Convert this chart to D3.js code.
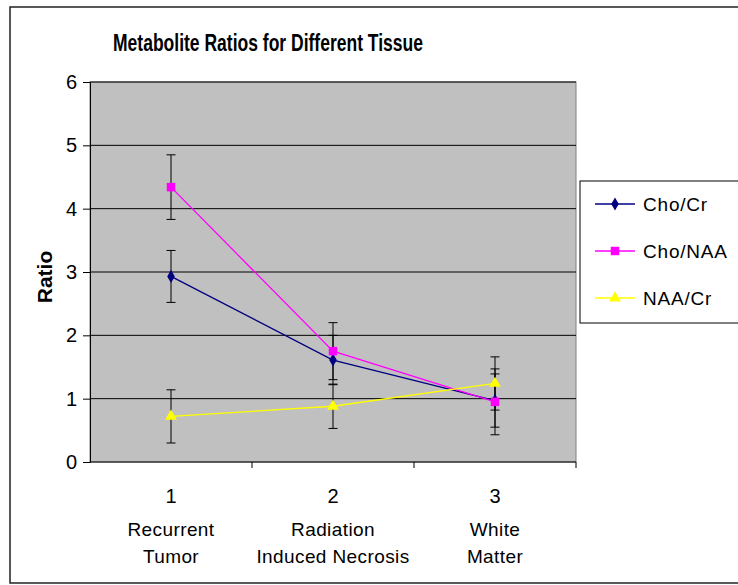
<!DOCTYPE html>
<html>
<head>
<meta charset="utf-8">
<script src="https://cdn.jsdelivr.net/npm/d3@7"></script>
<style>
  body { margin: 0; background: #fff; }
  text { font-family: 'Liberation Sans', Arial, sans-serif; fill: #000; }
</style>
</head>
<body>
<div class="chart"></div>
<script>
// DATA ------------------------------------
const categories = ['1', '2', '3']
const catLabels = [['Recurrent', 'Tumor'], ['Radiation', 'Induced Necrosis'], ['White', 'Matter']]
const yTicks = [0, 1, 2, 3, 4, 5, 6]

const seriesNames = ['Cho/Cr', 'Cho/NAA', 'NAA/Cr']
const choCr = [2.93, 1.61, 0.97]
const choCrErr = [0.41, 0.39, 0.42]
const choNaa = [4.34, 1.75, 0.95]
const choNaaErr = [0.51, 0.45, 0.52]
const naaCr = [0.72, 0.88, 1.24]
const naaCrErr = [0.42, 0.35, 0.42]

const series = [
    { name: seriesNames[0], values: choCr, err: choCrErr, color: '#000080', symbol: d3.symbolDiamond, size: 50 },
    { name: seriesNames[1], values: choNaa, err: choNaaErr, color: '#ff00ff', symbol: d3.symbolSquare, size: 72 },
    { name: seriesNames[2], values: naaCr, err: naaCrErr, color: '#ffff00', symbol: d3.symbolTriangle, size: 60 }
]

// CHART INIT ------------------------------
const W = 738, H = 585
const plot = { left: 90, top: 82, right: 576, bottom: 462 }

const svg = d3.select('.chart')
    .append('svg')
    .attr('width', W)
    .attr('height', H)

// outer chart border
svg.append('rect')
    .attr('x', 10).attr('y', 7)
    .attr('width', 760).attr('height', 576)
    .attr('fill', 'none')
    .attr('stroke', '#222')
    .attr('stroke-width', 1.5)

const xScale = d3.scaleBand()
    .domain(categories)
    .range([plot.left, plot.right])

const yScale = d3.scaleLinear()
    .domain([0, 6])
    .range([plot.bottom, plot.top])

// plot background
svg.append('rect')
    .attr('x', plot.left).attr('y', plot.top)
    .attr('width', plot.right - plot.left)
    .attr('height', plot.bottom - plot.top)
    .attr('fill', '#c0c0c0')
    .attr('stroke', '#808080')

// gridlines
svg.append('g')
    .selectAll('line')
    .data(yTicks.filter(d => d > 0))
    .enter()
    .append('line')
    .attr('x1', plot.left).attr('x2', plot.right)
    .attr('y1', d => yScale(d)).attr('y2', d => yScale(d))
    .attr('stroke', '#000')

// y axis
const yAxis = d3.axisLeft(yScale).tickValues(yTicks).tickFormat(d3.format('d')).tickSize(7).tickPadding(6)
const yG = svg.append('g')
    .attr('transform', `translate(${plot.left},0)`)
    .call(yAxis)
yG.select('.domain').attr('stroke', '#000')
yG.selectAll('text').style('font-size', '20px').attr('fill', '#000')

// x axis
svg.append('line')
    .attr('x1', plot.left).attr('x2', plot.right)
    .attr('y1', plot.bottom).attr('y2', plot.bottom)
    .attr('stroke', '#000')

svg.append('g')
    .selectAll('line')
    .data(categories)
    .enter()
    .append('line')
    .attr('x1', d => xScale(d) + xScale.bandwidth())
    .attr('x2', d => xScale(d) + xScale.bandwidth())
    .attr('y1', plot.bottom).attr('y2', plot.bottom + 6)
    .attr('stroke', '#000')

const xLab = svg.append('g')
    .selectAll('g')
    .data(categories)
    .enter()
    .append('g')
    .attr('transform', d => `translate(${xScale(d) + xScale.bandwidth() / 2},0)`)

xLab.append('text')
    .attr('y', 503)
    .attr('text-anchor', 'middle')
    .style('font-size', '20px')
    .text(d => d)

xLab.each(function (d, i) {
    d3.select(this).selectAll('text.cat')
        .data(catLabels[i])
        .enter()
        .append('text')
        .attr('class', 'cat')
        .attr('y', (t, j) => 536 + j * 27)
        .attr('text-anchor', 'middle')
        .style('font-size', '19px')
        .style('letter-spacing', '0.4px')
        .text(t => t)
})

// title and y label
svg.append('text')
    .attr('x', 268).attr('y', 51)
    .attr('text-anchor', 'middle')
    .attr('textLength', 310)
    .attr('lengthAdjust', 'spacingAndGlyphs')
    .style('font-size', '23px')
    .style('font-weight', 'bold')
    .text('Metabolite Ratios for Different Tissue')

svg.append('text')
    .attr('transform', 'translate(52,277) rotate(-90)')
    .attr('text-anchor', 'middle')
    .style('font-size', '21px')
    .style('font-weight', 'bold')
    .text('Ratio')

// SERIES ----------------------------------
const cx = i => xScale(categories[i]) + xScale.bandwidth() / 2
const line = d3.line().x((d, i) => cx(i)).y(d => yScale(d))

series.forEach(s => {
    svg.append('path')
        .attr('d', line(s.values))
        .attr('fill', 'none')
        .attr('stroke', s.color)
        .attr('stroke-width', 1.3)
})

series.forEach(s => {
    const g = svg.append('g')
    s.values.forEach((v, i) => {
        const x = cx(i)
        const y0 = yScale(v - s.err[i]), y1 = yScale(v + s.err[i])
        g.append('line').attr('x1', x).attr('x2', x).attr('y1', y0).attr('y2', y1).attr('stroke', '#000')
        g.append('line').attr('x1', x - 4.5).attr('x2', x + 4.5).attr('y1', y0).attr('y2', y0).attr('stroke', '#000')
        g.append('line').attr('x1', x - 4.5).attr('x2', x + 4.5).attr('y1', y1).attr('y2', y1).attr('stroke', '#000')
    })
})

series.forEach(s => {
    svg.append('g')
        .selectAll('path')
        .data(s.values)
        .enter()
        .append('path')
        .attr('transform', (d, i) => `translate(${cx(i)},${yScale(d)})`)
        .attr('d', d3.symbol().type(s.symbol).size(s.size))
        .attr('fill', s.color)
})

// LEGEND ----------------------------------
svg.append('rect')
    .attr('x', 580).attr('y', 181)
    .attr('width', 180).attr('height', 142)
    .attr('fill', '#fff')
    .attr('stroke', '#000')

const leg = svg.append('g')
    .selectAll('g')
    .data(series)
    .enter()
    .append('g')
    .attr('transform', (d, i) => `translate(0,${204 + i * 47})`)

leg.append('line')
    .attr('x1', 595).attr('x2', 635)
    .attr('stroke', d => d.color)
    .attr('stroke-width', 1.3)

leg.append('path')
    .attr('transform', 'translate(615,0)')
    .attr('d', d => d3.symbol().type(d.symbol).size(d.size)())
    .attr('fill', d => d.color)

leg.append('text')
    .attr('x', 643).attr('y', 7)
    .style('font-size', '19px')
    .style('letter-spacing', '0.8px')
    .text(d => d.name)
</script>
</body>
</html>
